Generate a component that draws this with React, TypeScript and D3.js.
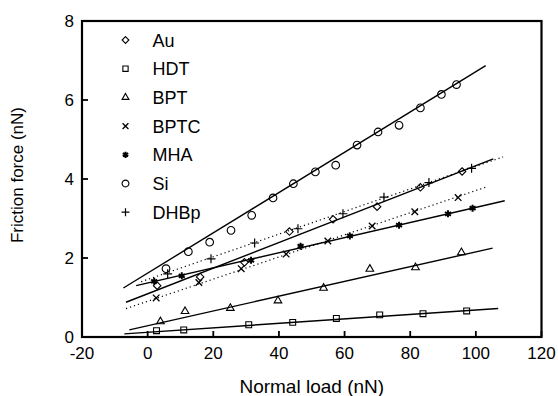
import React from 'react';
import * as d3 from 'd3';

const auX = [2.9, 16.0, 29.5, 43.2, 56.5, 69.9, 83.1, 95.8];
const auY = [1.30, 1.52, 1.89, 2.67, 2.98, 3.30, 3.79, 4.19];
const hdtX = [2.7, 11.0, 30.8, 44.2, 57.5, 70.7, 83.9, 97.2];
const hdtY = [0.16, 0.18, 0.31, 0.37, 0.47, 0.56, 0.59, 0.66];
const bptX = [3.9, 11.4, 25.2, 39.7, 53.6, 67.7, 81.6, 95.6];
const bptY = [0.39, 0.65, 0.73, 0.92, 1.24, 1.72, 1.76, 2.14];
const bptcX = [2.6, 15.6, 28.5, 42.2, 54.9, 68.4, 81.4, 94.6];
const bptcY = [0.99, 1.38, 1.73, 2.10, 2.43, 2.81, 3.17, 3.53];
const mhaX = [2.0, 10.4, 31.5, 46.6, 61.6, 76.6, 91.5, 99.0];
const mhaY = [1.41, 1.55, 1.94, 2.30, 2.56, 2.83, 3.12, 3.26];
const siX = [5.6, 12.4, 18.9, 25.4, 31.7, 38.2, 44.4, 51.1, 57.3, 63.8, 70.2, 76.6, 83.1, 89.5, 94.1];
const siY = [1.73, 2.16, 2.40, 2.70, 3.08, 3.52, 3.88, 4.18, 4.35, 4.86, 5.19, 5.36, 5.80, 6.14, 6.39];
const dhbpX = [6.1, 19.3, 32.6, 45.8, 59.5, 72.0, 85.7, 98.7];
const dhbpY = [1.60, 1.98, 2.38, 2.74, 3.12, 3.54, 3.91, 4.27];

// fitted lines: [x0, y0, x1, y1]
const auFit = [-6.6, 0.88, 105.3, 4.51];
const hdtFit = [-7.1, 0.08, 106.8, 0.72];
const bptFit = [-5.6, 0.18, 105.1, 2.25];
const bptcFit = [-6.6, 0.72, 103.3, 3.8];
const mhaFit = [-3.5, 1.3, 108.8, 3.45];
const siFit = [-7.4, 1.24, 103, 6.87];
const dhbpFit = [-2, 1.40, 108.3, 4.56];

const xTicks = [-20, 0, 20, 40, 60, 80, 100, 120];
const yTicks = [0, 2, 4, 6, 8];

const series = [
  { name: 'Au', xs: auX, ys: auY, fit: auFit, sym: d3.symbolDiamond2, size: 36, sw: 1.1, dotted: false },
  { name: 'HDT', xs: hdtX, ys: hdtY, fit: hdtFit, sym: d3.symbolSquare2, size: 44, sw: 1.1, dotted: false },
  { name: 'BPT', xs: bptX, ys: bptY, fit: bptFit, sym: d3.symbolTriangle2, size: 42, sw: 1.1, dotted: false },
  { name: 'BPTC', xs: bptcX, ys: bptcY, fit: bptcFit, sym: d3.symbolTimes, size: 30, sw: 1.3, dotted: true },
  { name: 'MHA', xs: mhaX, ys: mhaY, fit: mhaFit, sym: d3.symbolAsterisk, size: 34, sw: 2, dotted: false },
  { name: 'Si', xs: siX, ys: siY, fit: siFit, sym: d3.symbolCircle, size: 46, sw: 1.1, dotted: false },
  { name: 'DHBp', xs: dhbpX, ys: dhbpY, fit: dhbpFit, sym: d3.symbolPlus, size: 28, sw: 1.2, dotted: true },
];

export default function App() {
  const width = 558;
  const height = 396;
  const left = 82, right = 541.5, top = 21, bottom = 337;

  const x = d3.scaleLinear().domain([-20, 120]).range([left, right]);
  const y = d3.scaleLinear().domain([0, 8]).range([bottom, top]);
  const font = 'Arial, "Liberation Sans", Helvetica, sans-serif';

  return (
    <svg width={width} height={height} style={{ position: 'absolute', left: 0, top: 0, background: '#fff' }}
      fontFamily={font}>
      {/* fit lines */}
      {series.map(s => (
        <line key={'fit' + s.name}
          x1={x(s.fit[0])} y1={y(s.fit[1])} x2={x(s.fit[2])} y2={y(s.fit[3])}
          stroke="#000" strokeWidth={s.dotted ? 1.2 : 1.4}
          strokeDasharray={s.dotted ? '1.2,3' : undefined} />
      ))}

      {/* markers */}
      {series.map(s => (
        <g key={'pts' + s.name}>
          {s.xs.map((v, i) => (
            <path key={i} transform={`translate(${x(v)},${y(s.ys[i])})`}
              d={d3.symbol(s.sym, s.size)() as string}
              fill="none" stroke="#000" strokeWidth={s.sw} />
          ))}
        </g>
      ))}

      {/* frame */}
      <rect x={left} y={top} width={right - left} height={bottom - top}
        fill="none" stroke="#000" strokeWidth={2.2} />

      {/* x axis */}
      {xTicks.map(t => (
        <g key={'xt' + t}>
          <line x1={x(t)} x2={x(t)} y1={bottom} y2={bottom - 6} stroke="#000" strokeWidth={1.8} />
          <text x={x(t)} y={359} textAnchor="middle" fontSize={17}>{t}</text>
        </g>
      ))}
      {/* y axis */}
      {yTicks.map(t => (
        <g key={'yt' + t}>
          <line x1={left} x2={left + 6} y1={y(t)} y2={y(t)} stroke="#000" strokeWidth={1.8} />
          <text x={74} y={y(t) + 6} textAnchor="end" fontSize={17}>{t}</text>
        </g>
      ))}

      <text x={(left + right) / 2} y={393} textAnchor="middle" fontSize={19}>Normal load (nN)</text>
      <text transform={`translate(23,${(top + bottom) / 2 - 4}) rotate(-90)`} textAnchor="middle" fontSize={17}>
        Friction force (nN)
      </text>

      {/* legend */}
      {series.map((s, i) => (
        <g key={'lg' + s.name} transform={`translate(125.5,${40 + i * 28.7})`}>
          <path d={d3.symbol(s.sym, s.size * 0.8)() as string} fill="none" stroke="#000" strokeWidth={s.sw} />
          <text x={27} y={6.5} fontSize={18}>{s.name}</text>
        </g>
      ))}
    </svg>
  );
}
